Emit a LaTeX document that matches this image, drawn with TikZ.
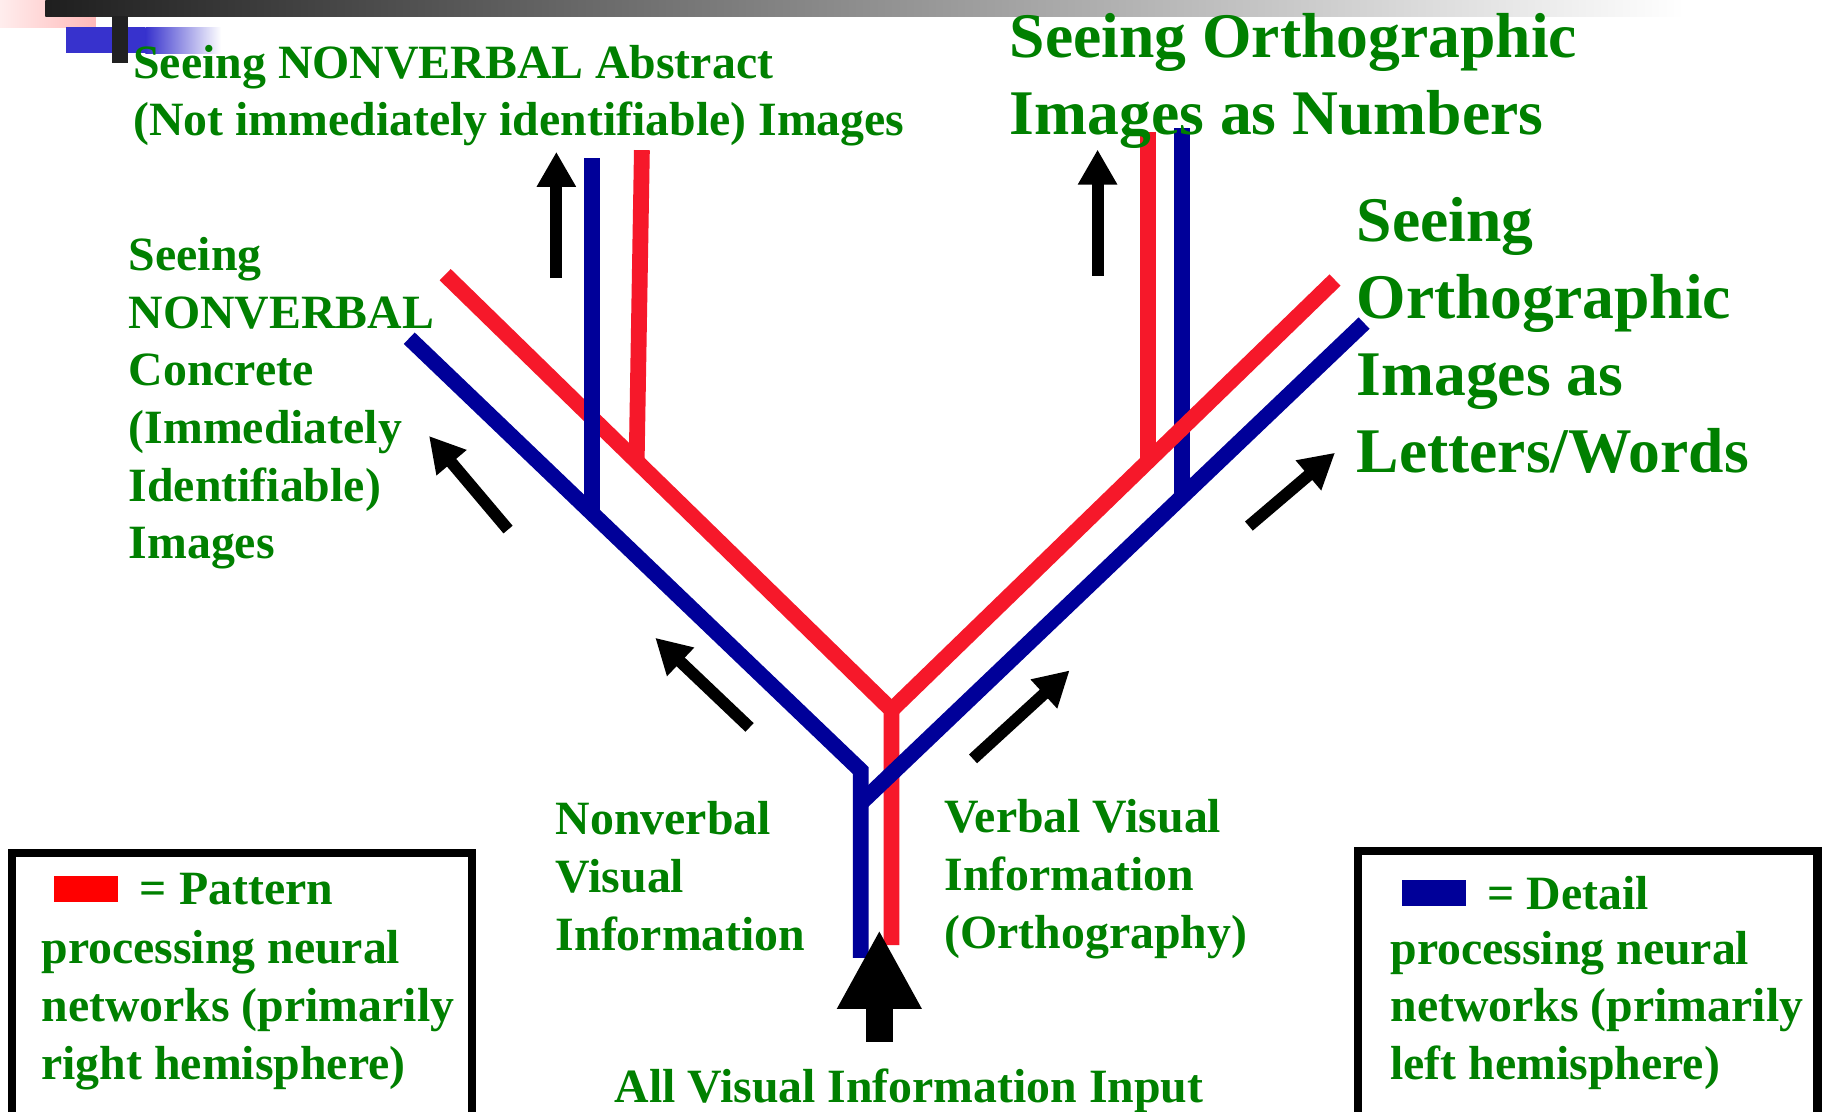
\documentclass[tikz,border=0pt]{standalone}
\usepackage{fontspec}
\setmainfont{Liberation Serif}
\usepackage{xcolor}
\usetikzlibrary{arrows.meta, positioning}
\definecolor{pathred}{RGB}{246,24,42}
\definecolor{pathblue}{RGB}{0,0,153}
\definecolor{textgreen}{RGB}{0,128,0}
\definecolor{keyred}{RGB}{255,0,0}
\definecolor{cornerblue}{RGB}{55,50,205}
\definecolor{cornerpink}{RGB}{255,185,185}

\begin{document}
\begin{tikzpicture}[
  x=0.011639cm, y=-0.011639cm,
  caption/.style={text=textgreen, font=\fontsize{13.6}{16.39}\selectfont\bfseries, align=left, inner sep=0pt},
  bigcaption/.style={caption, font=\fontsize{18.1}{21.85}\selectfont\bfseries},
  redpath/.style={draw=pathred, line width=4.5pt},
  bluepath/.style={draw=pathblue, line width=4.5pt},
  flow/.style={line width=3.4pt, -{Triangle[length=0.35cm, width=0.37cm]}},
  bigflow/.style={line width=7.6pt, -{Triangle[length=0.79cm, width=0.79cm]}},
  keybox/.style={draw, line width=2.3pt},
  swatch/.style={minimum width=0.64cm, minimum height=0.26cm, inner sep=0pt},
]
\useasboundingbox (0,0) rectangle (1568,955);
\fill[white] (0,0) rectangle (1568,955);
\shade[left color=cornerpink!25, right color=cornerpink] (0,0) rectangle (82,23.5);
\shade[left color=black!88, middle color=black!30, right color=white] (39,0) rectangle (1447,14);
\fill[cornerblue] (56.5,23.5) rectangle (125,45.7);
\shade[left color=cornerblue, right color=white] (125,23.5) rectangle (190,45.7);
\fill[black!87] (96,14) rectangle (110,54);

\coordinate (redJ) at (766,610);
\coordinate (redL) at (382.5,236);
\coordinate (redR) at (1147,240.6);
\coordinate (redS) at (766,812);
\coordinate (redLtop) at (551.5,129);
\coordinate (redLfoot) at (547,396.4);
\coordinate (redRtop) at (986.5,113);
\coordinate (redRfoot) at (986.5,396);
\coordinate (blueL) at (351.6,290.6);
\coordinate (blueJ) at (739.5,662);
\coordinate (blueS) at (739.5,823);
\coordinate (blueB) at (739.5,690);
\coordinate (blueR) at (1172,277.6);
\coordinate (blueLtop) at (508.5,136);
\coordinate (blueLfoot) at (508.5,440.8);
\coordinate (blueRtop) at (1015.5,110);
\coordinate (blueRfoot) at (1015.5,427);

\draw[redpath] (redL) -- (redJ) -- (redS);
\draw[redpath] (redLtop) -- (redLfoot);
\draw[bluepath] (blueL) -- (blueJ) -- (blueS);
\draw[bluepath] (blueB) -- (blueR);
\draw[bluepath] (blueLtop) -- (blueLfoot);
\draw[bluepath] (blueRtop) -- (blueRfoot);
\draw[redpath] (redJ) -- (redR);
\draw[redpath] (redRtop) -- (redRfoot);

\coordinate (upLtail) at (478,239);
\coordinate (upLtip) at (478,130.5);
\coordinate (upRtail) at (943,237);
\coordinate (upRtip) at (943,128.5);
\coordinate (concTail) at (436.5,455);
\coordinate (concTip) at (368.6,374.6);
\coordinate (nonvTail) at (644,625);
\coordinate (nonvTip) at (563,548);
\coordinate (verbTail) at (836,652);
\coordinate (verbTip) at (919,576);
\coordinate (lettTail) at (1073,452);
\coordinate (lettTip) at (1147,389);
\coordinate (inTail) at (755.5,895);
\coordinate (inTip) at (755.5,799);

\draw[flow] (upLtail) -- (upLtip);
\draw[flow] (upRtail) -- (upRtip);
\draw[flow] (concTail) -- (concTip);
\draw[flow] (nonvTail) -- (nonvTip);
\draw[flow] (verbTail) -- (verbTip);
\draw[flow] (lettTail) -- (lettTip);
\draw[bigflow] (inTail) -- (inTip);

\node[caption, anchor=north west] (abstract) at (114,38.1) {Seeing NONVERBAL Abstract\\(Not immediately identifiable) Images};
\node[bigcaption, anchor=north west] (numbers) at (867,11.2) {Seeing Orthographic\\Images as Numbers};
\node[bigcaption, anchor=north west] (letters) at (1165,169.2) {Seeing\\Orthographic\\Images as\\Letters/Words};
\node[caption, anchor=north west] (concrete) at (110,203.6) {Seeing\\NONVERBAL\\Concrete\\(Immediately\\Identifiable)\\Images};
\node[caption, anchor=north west] (nonverbal) at (477,688.2) {Nonverbal\\Visual\\Information};
\node[caption, anchor=north west] (verbal) at (811,686.6) {Verbal Visual\\Information\\(Orthography)};
\node[caption, anchor=base] (input) at (781,947) {All Visual Information Input};

\draw[keybox] (10.5,733) rectangle (405.5,960);
\draw[keybox] (1166.5,731.5) rectangle (1561.5,960);
\node[swatch, fill=keyred] (patswatch) at (73.5,763.8) {};
\node[caption, right=0.21cm of patswatch] (pattern) {= Pattern};
\node[caption, anchor=north west] (patterntext) at (35,799.1) {processing neural\\networks (primarily\\right hemisphere)};
\node[swatch, fill=pathblue] (detswatch) at (1232.2,767.5) {};
\node[caption, right=0.2cm of detswatch] (detail) {= Detail};
\node[caption, anchor=north west] (detailtext) at (1194,799.2) {processing neural\\networks (primarily\\left hemisphere)};
\end{tikzpicture}
\end{document}
